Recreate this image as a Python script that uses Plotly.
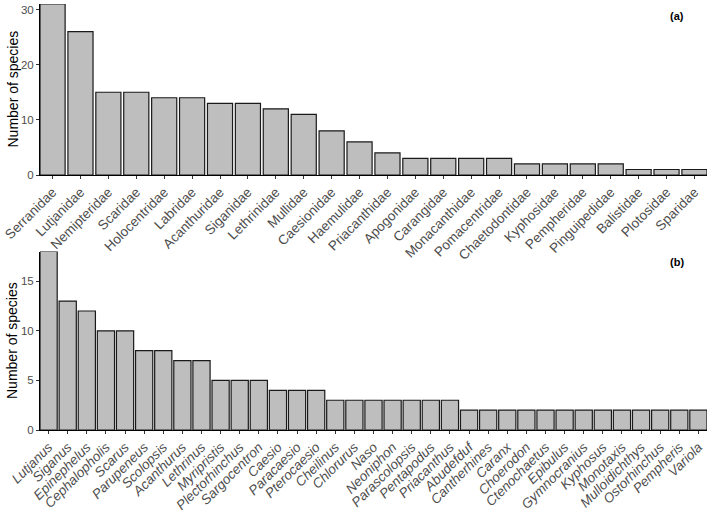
import plotly.graph_objects as go
from plotly.subplots import make_subplots

families = ["Serranidae", "Lutjanidae", "Nemipteridae", "Scaridae", "Holocentridae",
            "Labridae", "Acanthuridae", "Siganidae", "Lethrinidae", "Mullidae",
            "Caesionidae", "Haemulidae", "Priacanthidae", "Apogonidae", "Carangidae",
            "Monacanthidae", "Pomacentridae", "Chaetodontidae", "Kyphosidae",
            "Pempheridae", "Pinguipedidae", "Balistidae", "Plotosidae", "Sparidae"]
family_counts = [31, 26, 15, 15, 14, 14, 13, 13, 12, 11, 8, 6, 4, 3, 3, 3, 3,
                 2, 2, 2, 2, 1, 1, 1]

genera = ["Lutjanus", "Siganus", "Epinephelus", "Cephalopholis", "Scarus",
          "Parupeneus", "Scolopsis", "Acanthurus", "Lethrinus", "Myripristis",
          "Plectorhinchus", "Sargocentron", "Caesio", "Paracaesio", "Pterocaesio",
          "Cheilinus", "Chlorurus", "Naso", "Neoniphon", "Parascolopsis",
          "Pentapodus", "Priacanthus", "Abudefduf", "Cantherhines", "Caranx",
          "Choerodon", "Ctenochaetus", "Epibulus", "Gymnocranius", "Kyphosus",
          "Monotaxis", "Mulloidichthys", "Ostorhinchus", "Pempheris", "Variola"]
genus_counts = [18, 13, 12, 10, 10, 8, 8, 7, 7, 5, 5, 5, 4, 4, 4, 3, 3, 3, 3, 3,
                3, 3, 2, 2, 2, 2, 2, 2, 2, 2, 2, 2, 2, 2, 2]

top_ticks = [0, 10, 20, 30]
bottom_ticks = [0, 5, 10, 15]

FONT = "Liberation Sans, Arial, sans-serif"
W, H = 709, 510

fig = make_subplots(rows=2, cols=1)

bar_style = dict(marker=dict(color="#bebebe", line=dict(color="#1a1a1a", width=1.2)),
                 showlegend=False, hoverinfo="x+y")

fig.add_trace(go.Bar(x=families, y=family_counts, **bar_style), row=1, col=1)
fig.add_trace(go.Bar(x=genera, y=genus_counts, **bar_style), row=2, col=1)

axis_common = dict(showline=True, linecolor="black", linewidth=1,
                   ticks="outside", ticklen=3, tickcolor="#333333",
                   showgrid=False, automargin=False)

xdom = [40 / W, 707 / W]
fig.update_layout(
    width=W, height=H,
    margin=dict(l=0, r=0, t=0, b=0),
    plot_bgcolor="white", paper_bgcolor="white",
    bargap=0.1,
    font=dict(family=FONT, color="#4d4d4d"),
    xaxis=dict(domain=xdom, anchor="y", range=[-0.45, len(families) - 0.55],
               tickangle=-45, tickfont=dict(size=13.5, color="#4d4d4d"),
               **axis_common),
    yaxis=dict(domain=[1 - 175 / H, 1 - 4 / H], anchor="x", range=[0, 31],
               tickvals=top_ticks, tickfont=dict(size=11.5, color="#4d4d4d"),
               zeroline=False, **axis_common),
    xaxis2=dict(domain=xdom, anchor="y2", range=[-0.45, len(genera) - 0.55],
                tickangle=-45,
                tickvals=genera,
                ticktext=["<i>%s</i>" % g for g in genera],
                tickfont=dict(size=13.5, color="#4d4d4d"),
                **axis_common),
    yaxis2=dict(domain=[1 - 430 / H, 1 - 251.5 / H], anchor="x2", range=[0, 18],
                tickvals=bottom_ticks, tickfont=dict(size=11.5, color="#4d4d4d"),
                zeroline=False, **axis_common),
)

for yc in (89.5, 341):
    fig.add_annotation(text="Number of species", xref="paper", yref="paper",
                       x=12 / W, y=1 - yc / H, textangle=-90, showarrow=False,
                       xanchor="center", yanchor="middle",
                       font=dict(size=14, color="black", family=FONT))

fig.add_annotation(text="<b>(a)</b>", xref="paper", yref="paper",
                   x=686 / W, y=1 - 8 / H, showarrow=False,
                   font=dict(size=11, color="black", family=FONT))
fig.add_annotation(text="<b>(b)</b>", xref="paper", yref="paper",
                   x=686 / W, y=1 - 262 / H, showarrow=False,
                   font=dict(size=11, color="black", family=FONT))

fig.write_html("out.html",
               config={"displayModeBar": False},
               post_script="document.body.style.margin='0';document.body.style.overflow='hidden';")
